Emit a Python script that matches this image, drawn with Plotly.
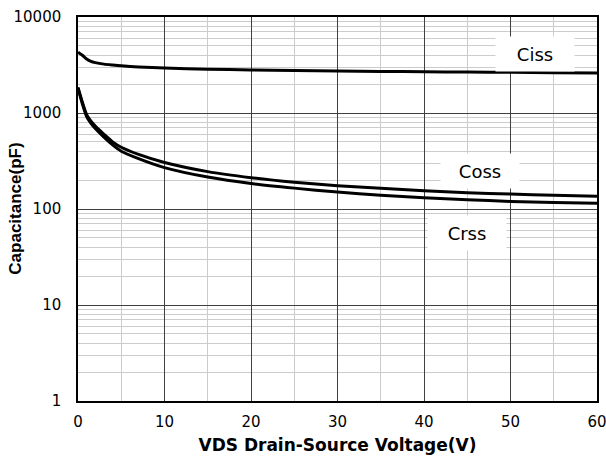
import plotly.graph_objects as go
import math

vds = [0, 0.5, 1, 1.5, 2, 3, 4, 5, 7, 10, 15, 20, 25, 30, 35, 40, 45, 50, 55, 60]
ciss = [4300, 4000, 3650, 3450, 3350, 3230, 3160, 3100, 3020, 2940, 2860, 2810, 2770, 2740, 2710, 2690, 2670, 2650, 2630, 2610]
coss = [1850, 1300, 960, 820, 730, 600, 500, 440, 370, 305, 245, 212, 190, 175, 164, 155, 148, 143, 139, 136]
crss = [1800, 1250, 920, 780, 690, 560, 465, 400, 335, 270, 215, 184, 165, 150, 139, 131, 125, 120, 117, 115]

labels = ["Ciss", "Coss", "Crss"]
label_x = [52.8, 46.5, 45.0]
label_y = [4120, 249, 56]

WIDE = "DejaVu Sans"
NARROW = "Liberation Sans, Arial"

fig = go.Figure()
for ys in (ciss, coss, crss):
    fig.add_trace(go.Scatter(x=vds, y=ys, mode="lines", line=dict(color="black", width=3, shape="spline", smoothing=0.6), showlegend=False))

for t, lx, ly in zip(labels, label_x, label_y):
    fig.add_annotation(x=lx, y=math.log10(ly), text=t, showarrow=False, bgcolor="white",
                       width=76, height=32, font=dict(family=WIDE, size=18, color="black"))

# y-axis title placed as a rotated annotation
fig.add_annotation(xref="paper", yref="paper", x=-0.122, y=0.5, text="<b>Capacitance(pF)</b>",
                   textangle=-90, showarrow=False, xanchor="center", yanchor="middle",
                   font=dict(family=NARROW, size=17, color="black"))

fig.update_layout(
    width=606, height=459,
    margin=dict(l=78, r=9, t=17, b=58, autoexpand=False),
    plot_bgcolor="white", paper_bgcolor="white",
    font=dict(family=WIDE, size=15, color="black"),
)
fig.update_xaxes(range=[0, 60], dtick=10, tick0=0, showgrid=True, gridcolor="#404040", gridwidth=1,
                 minor=dict(dtick=5, showgrid=True, gridcolor="#cccccc", gridwidth=1),
                 showline=True, linecolor="black", linewidth=1.5, mirror=True, zeroline=False,
                 ticks="", tickfont=dict(family=WIDE, size=15), automargin=False,
                 ticklabeloverflow="allow", ticklabelstandoff=6,
                 title=dict(text="<b>VDS Drain-Source Voltage(V)</b>", font=dict(family=WIDE, size=17), standoff=9))
fig.update_yaxes(type="log", range=[0, 4], dtick=1, showgrid=True, gridcolor="#404040", gridwidth=1,
                 minor=dict(dtick="D1", showgrid=True, gridcolor="#cccccc", gridwidth=1),
                 tickvals=[1, 10, 100, 1000, 10000], ticktext=["1", "10", "100", "1000", "10000"],
                 showline=True, linecolor="black", linewidth=1.5, mirror=True, zeroline=False,
                 ticks="", tickfont=dict(family=WIDE, size=15), ticklabelstandoff=12, automargin=False,
                 ticklabeloverflow="allow")

fig.write_html("out.html")
